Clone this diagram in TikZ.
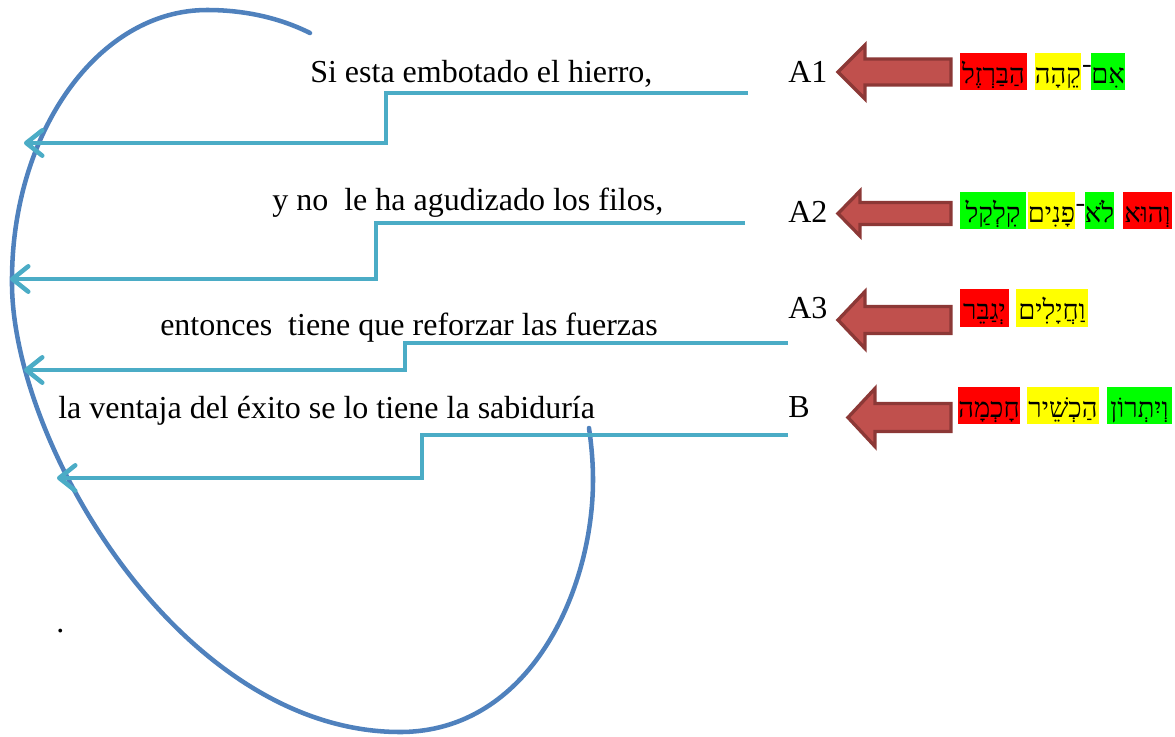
\documentclass[tikz,border=0pt]{standalone}
\usepackage{fontspec}
\setmainfont{Liberation Serif}
\newfontfamily\hebfont[Script=Hebrew]{Liberation Serif}
\TeXXeTstate=1
\usetikzlibrary{arrows.meta}
\definecolor{curveblue}{HTML}{4F81BD}
\definecolor{connc}{HTML}{4BACC6}
\definecolor{arrfill}{HTML}{C0504D}
\definecolor{arrdraw}{HTML}{8C3836}
\definecolor{hlred}{HTML}{FF0000}
\definecolor{hlyel}{HTML}{FFFF00}
\definecolor{hlgrn}{HTML}{00FF00}
% name, fill, x1, x2, y1, y2, text
\newcommand\hebword[7]{%
  \node[hwbox, fill=#2, minimum width={(#4-#3)*0.75pt}, minimum height={(#6-#5)*0.75pt}]
    (#1) at ({(#3+#4)/2},{(#5+#6)/2}) {\beginR #7\endR};}
% tip x, centre y, head-back x, head half height, shaft half height
\newcommand\redblock[5]{%
  \filldraw[redarr] (#1,#2) -- (#3,{#2-#4}) -- (#3,{#2-#5}) -- (951,{#2-#5})
    -- (951,{#2+#5}) -- (#3,{#2+#5}) -- (#3,{#2+#4}) -- cycle;}
\begin{document}
\begin{tikzpicture}[x=0.75pt,y=-0.75pt,
  spanish/.style={font=\fontsize{24}{28}\selectfont, inner sep=0, anchor=base west},
  conn/.style={draw=connc, line width=3.4pt, line join=miter,
    -{Straight Barb[length=12pt,width=19pt,round]}},
  bigcurve/.style={draw=curveblue, line width=3.4pt, line cap=round},
  redarr/.style={fill=arrfill, draw=arrdraw, line width=2.5pt, line join=miter},
  hwbox/.style={inner sep=0, text height=22.5pt, text depth=5.25pt,
    font=\hebfont\fontsize{20.5}{24}\selectfont}]
\useasboundingbox (0,0) rectangle (1175,736);

% big curve
\draw[bigcurve] (310,33) .. controls (280,18) and (245,10) .. (207,10)
  .. controls (99,10) and (12,131) .. (12,280)
  .. controls (10,440) and (180,732) .. (400,732)
  .. controls (530,732) and (593,590) .. (593,480)
  .. controls (593,460) and (591,442) .. (589,428);

% Spanish texts
\node[spanish] (t1) at (310,82) {Si esta embotado el hierro,};
\node[spanish] (t2) at (272,210) {y no\ \ le ha agudizado los filos,};
\node[spanish] (t3) at (160,335) {entonces\ \ tiene que reforzar las fuerzas};
\node[spanish] (t4) at (58,418) {la ventaja del éxito se lo tiene la sabiduría};
\node[spanish] (dot) at (56,632) {.};

% labels
\node[spanish] (A1) at (788,82) {A1};
\node[spanish] (A2) at (788,222) {A2};
\node[spanish] (A3) at (788,318) {A3};
\node[spanish] (B) at (788,417) {B};

% connectors
\coordinate (c1s) at (748,93);  \coordinate (c1m) at (386,118); \coordinate (c1e) at (24,143);
\coordinate (c2s) at (745,223); \coordinate (c2m) at (376,250); \coordinate (c2e) at (10,279);
\coordinate (c3s) at (788,343); \coordinate (c3m) at (405,356); \coordinate (c3e) at (24,370);
\coordinate (c4s) at (788,435); \coordinate (c4m) at (422,456); \coordinate (c4e) at (57,478);
\draw[conn] (c1s) -| (c1m) |- (c1e);
\draw[conn] (c2s) -| (c2m) |- (c2e);
\draw[conn] (c3s) -| (c3m) |- (c3e);
\draw[conn] (c4s) -| (c4m) |- (c4e);

% red block arrows
\redblock{838}{72}{865}{27}{13}
\redblock{838}{213.5}{860}{22.5}{11}
\redblock{838}{320}{865}{28.5}{13.5}
\redblock{848}{417.5}{875}{29}{14}

% Hebrew words
\hebword{h11}{hlgrn}{1092}{1124}{53}{90}{אִם}
\hebword{h1m}{none}{1081}{1092}{53}{90}{־}
\hebword{h12}{hlyel}{1035}{1081}{53}{90}{קֵהָה}
\hebword{h13}{hlred}{960}{1027}{53}{90}{הַבַּרְזֶל}

\hebword{h21}{hlred}{1123}{1172}{192}{229}{וְהוּא}
\hebword{h22}{hlgrn}{1085}{1114}{192}{229}{לֹא}
\hebword{h2m}{none}{1075}{1085}{192}{229}{־}
\hebword{h23}{hlyel}{1028}{1075}{192}{229}{פָנִים}
\hebword{h24}{hlgrn}{960}{1026}{192}{229}{קִלְקַל}

\hebword{h31}{hlyel}{1016}{1088}{289}{327}{וַחֲיָלִים}
\hebword{h32}{hlred}{960}{1009}{289}{327}{יְגַבֵּר}

\hebword{h41}{hlgrn}{1107}{1172}{387}{424}{וְיִתְרוֹן}
\hebword{h42}{hlyel}{1027}{1099}{387}{424}{הַכְשֵׁיר}
\hebword{h43}{hlred}{959}{1019}{387}{424}{חָכְמָה}
\end{tikzpicture}
\end{document}
